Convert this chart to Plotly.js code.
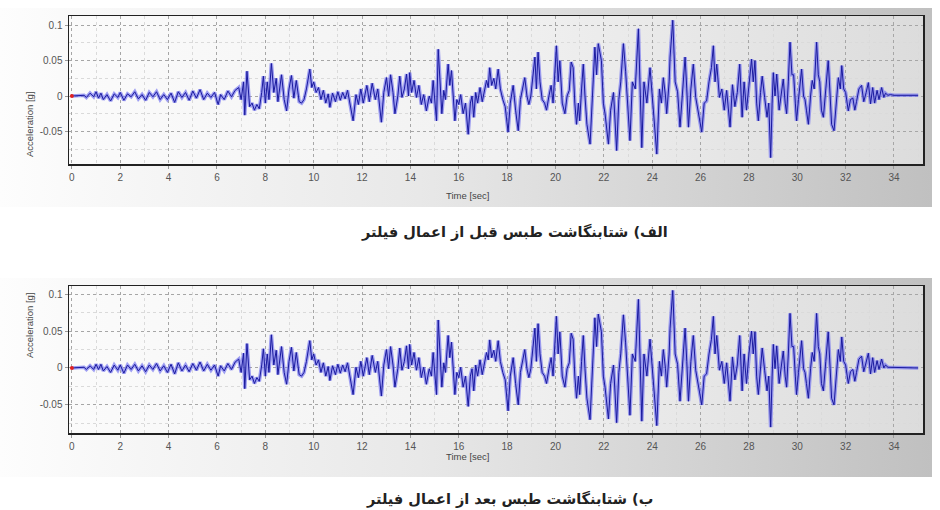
<!DOCTYPE html>
<html>
<head>
<meta charset="utf-8">
<script src="https://cdn.plot.ly/plotly-3.0.1.min.js"></script>
<style>
  html,body{margin:0;padding:0;background:#fff;}
  #wrap{position:relative;width:940px;height:510px;overflow:hidden;}
  .panel{position:absolute;left:0;width:932px;background:linear-gradient(to right,#fdfdfd 0%,#e8e8e8 45%,#c0c0c0 100%);}
  .inner{position:absolute;left:69px;width:854px;background:linear-gradient(to right,#fbfbfb 0%,#f1f1f1 50%,#dcdcdc 100%);}
  #chart{position:absolute;left:0;top:0;width:940px;height:510px;}
</style>
</head>
<body>
<div id="wrap">
  <div class="panel" style="top:8px;height:199px;"></div>
  <div class="inner" style="top:16px;height:148px;"></div>
  <div class="panel" style="top:278px;height:199px;"></div>
  <div class="inner" style="top:286px;height:147px;"></div>
  <div id="chart"></div>
</div>
<script>
// Time [sec]
const time = [0,0.3,0.5,0.6,0.75,0.9,1.0,1.1,1.2,1.3,1.45,1.6,1.75,1.9,2.0,2.15,2.3,2.45,2.6,2.75,2.9,3.05,3.2,3.35,3.5,3.65,3.8,3.95,4.1,4.25,4.4,4.55,4.7,4.85,5.0,5.15,5.3,5.45,5.6,5.75,5.9,6.05,6.15,6.3,6.45,6.6,6.75,6.9,
7.0,7.1,7.15,7.24,7.35,7.45,7.55,7.65,7.75,7.85,7.92,8.0,8.08,8.15,8.25,8.35,8.45,8.52,8.6,8.67,8.78,8.88,8.98,9.08,9.18,9.28,9.4,9.5,9.6,9.7,9.84,9.92,
10.0,10.1,10.2,10.3,10.4,10.5,10.6,10.67,10.78,10.9,11.0,11.1,11.2,11.3,11.4,11.5,11.63,11.75,11.85,11.95,12.05,12.2,12.3,12.42,12.55,12.65,12.8,12.9,
13.01,13.1,13.18,13.28,13.36,13.48,13.56,13.65,13.75,13.84,13.92,13.97,14.05,14.15,14.25,14.35,14.45,14.55,14.66,14.78,14.87,14.94,15.02,15.08,15.15,15.22,15.3,15.38,15.45,15.56,15.63,15.7,15.77,15.84,15.92,
16.0,16.08,16.18,16.28,16.39,16.48,16.55,16.62,16.7,16.78,16.88,16.97,17.06,17.15,17.22,17.28,17.36,17.45,17.53,17.63,17.72,17.82,17.92,18.04,18.13,18.25,18.35,18.46,18.55,18.63,18.73,18.82,18.9,18.98,
19.07,19.15,19.21,19.28,19.36,19.45,19.55,19.63,19.73,19.82,19.9,19.97,20.04,20.11,20.18,20.28,20.39,20.48,20.57,20.65,20.73,20.8,20.87,20.95,21.0,21.08,21.15,21.22,21.3,21.43,21.52,21.63,21.7,21.77,21.9,21.98,
22.05,22.19,22.28,22.4,22.53,22.62,22.7,22.81,22.9,22.97,23.08,23.18,23.3,23.43,23.5,23.57,23.66,23.78,23.91,24.0,24.08,24.19,24.3,24.38,24.46,24.55,24.6,24.7,24.74,24.85,24.95,
25.05,25.15,25.25,25.36,25.43,25.5,25.6,25.7,25.8,25.9,26.05,26.15,26.25,26.35,26.45,26.53,26.6,26.67,26.78,26.88,26.98,27.08,27.22,27.32,27.42,27.52,27.62,27.72,27.8,27.9,
28.0,28.11,28.18,28.25,28.32,28.39,28.48,28.55,28.65,28.75,28.82,28.9,28.96,29.01,29.08,29.15,29.25,29.33,29.42,29.5,29.56,29.63,29.7,29.78,29.85,29.92,29.97,
30.05,30.1,30.18,30.26,30.32,30.38,30.46,30.55,30.62,30.7,30.8,30.87,30.93,31.0,31.08,31.18,31.28,31.36,31.42,31.52,31.6,31.7,31.78,31.84,31.92,
32.0,32.11,32.2,32.3,32.38,32.45,32.55,32.66,32.75,32.85,32.94,33.03,33.12,33.2,33.3,33.38,33.49,33.58,33.65,33.75,33.85,34.0,35.0];

// Acceleration [g] before filtering (alef)
const accBefore = [0,0,0.001,-0.002,0.004,-0.001,0.006,-0.003,0.004,-0.005,0.002,-0.007,0.003,-0.002,0.005,-0.006,0.003,-0.001,0.006,-0.004,0.002,-0.006,0.005,-0.001,0.006,-0.005,0.002,-0.005,0.004,-0.009,0.006,-0.002,0.005,-0.006,0.007,-0.003,0.009,-0.005,0.004,-0.002,0.005,-0.012,0.002,-0.005,0.007,-0.001,0.008,0.012,
-0.005,0.02,-0.027,0.035,-0.015,-0.01,-0.02,-0.012,-0.018,0.005,0.028,-0.01,0.02,-0.005,0.046,0.005,0.025,-0.008,0.015,0.03,-0.005,-0.021,0.01,0.029,-0.003,0.022,-0.008,-0.01,-0.005,0.01,0.038,0.012,
0.02,0.005,0.012,-0.005,0.008,-0.01,0.003,-0.016,0.004,-0.008,0.006,-0.006,0.005,-0.004,0.008,-0.012,-0.035,0.002,-0.012,0.01,-0.01,0.015,-0.008,0.018,-0.005,0.01,-0.037,0.005,
0.026,0.0,0.03,0.005,-0.025,0.0,0.028,-0.002,0.01,0.031,0.0,0.033,0.005,0.022,-0.002,0.015,-0.012,0.002,-0.021,0.0,-0.01,0.022,-0.01,-0.035,0.066,0.02,-0.025,0.008,-0.005,0.045,0.015,0.036,0.0,-0.035,-0.005,
-0.012,0.002,-0.025,-0.01,-0.054,-0.01,0.0,-0.03,0.005,-0.01,0.012,-0.008,0.008,0.022,0.012,0.04,0.015,0.025,0.01,0.038,0.01,-0.005,-0.015,-0.051,-0.01,0.015,-0.02,-0.049,-0.005,0.01,0.026,0.0,-0.012,0.0,
0.03,0.055,0.01,0.062,0.02,-0.005,-0.01,-0.02,0.0,0.015,-0.01,0.03,0.071,0.02,0.05,-0.01,-0.025,0.0,0.008,0.048,0.04,-0.01,-0.04,-0.01,-0.035,0.01,0.045,0.0,-0.04,-0.068,0.0,0.069,0.03,0.074,0.05,-0.01,
-0.025,-0.068,-0.02,0.005,-0.077,-0.005,0.02,0.074,0.035,0.0,-0.063,0.02,0.01,0.095,0.0,-0.073,0.02,-0.01,0.04,0.0,-0.03,-0.082,0.01,-0.01,0.026,0.0,-0.025,0.02,0.055,0.107,0.02,
0.006,-0.044,0.0,0.055,0.01,-0.044,0.01,0.045,-0.002,-0.02,-0.051,-0.01,-0.007,0.02,0.04,0.071,0.02,0.045,-0.002,0.01,-0.02,0.008,-0.044,0.016,-0.015,0.005,0.045,-0.03,0.02,-0.02,
0.02,0.052,0.02,0.05,-0.01,-0.035,0.005,0.028,-0.002,-0.03,-0.01,-0.087,-0.01,0.033,0.0,0.031,-0.02,0.005,0.024,-0.01,-0.025,0.02,0.076,0.03,0.03,-0.01,-0.035,
-0.005,0.015,0.038,0.0,-0.005,-0.02,-0.04,0.0,0.022,0.01,0.076,0.03,0.02,-0.02,-0.03,0.01,0.05,0.0,-0.04,-0.049,-0.01,0.026,0.01,0.043,0.01,
0.005,-0.021,-0.005,-0.003,-0.02,-0.008,0.01,0.015,-0.008,0.005,0.019,-0.011,0.012,-0.01,0.008,-0.005,0.012,-0.002,0.004,0.001,0.002,0.001,0.001];

// Acceleration [g] after filtering (be)
const accAfter = [0,0,0.001,-0.002,0.003,-0.002,0.005,-0.002,0.005,-0.004,0.002,-0.006,0.004,-0.003,0.004,-0.007,0.004,-0.002,0.005,-0.004,0.003,-0.005,0.004,-0.002,0.006,-0.004,0.003,-0.006,0.005,-0.008,0.007,-0.004,0.004,-0.005,0.006,-0.003,0.008,-0.004,0.005,-0.003,0.004,-0.011,0.003,-0.004,0.006,-0.002,0.008,0.012,
-0.006,0.02,-0.028,0.033,-0.016,-0.011,-0.021,-0.013,-0.018,0.004,0.026,-0.011,0.019,-0.006,0.045,0.004,0.024,-0.009,0.014,0.029,-0.006,-0.022,0.009,0.028,-0.004,0.021,-0.009,-0.011,-0.006,0.009,0.037,0.011,
0.019,0.004,0.011,-0.006,0.007,-0.011,0.002,-0.017,0.003,-0.009,0.005,-0.007,0.004,-0.005,0.007,-0.013,-0.036,0.001,-0.013,0.009,-0.011,0.014,-0.009,0.017,-0.006,0.009,-0.038,0.004,
0.025,-0.001,0.029,0.004,-0.026,-0.001,0.027,-0.003,0.009,0.03,-0.001,0.032,0.004,0.021,-0.003,0.014,-0.013,0.001,-0.022,-0.001,-0.011,0.021,-0.011,-0.036,0.065,0.019,-0.026,0.007,-0.006,0.044,0.014,0.035,-0.001,-0.036,-0.006,
-0.013,0.001,-0.026,-0.011,-0.052,-0.011,-0.001,-0.031,0.004,-0.011,0.011,-0.009,0.007,0.021,0.011,0.038,0.014,0.024,0.009,0.037,0.009,-0.006,-0.016,-0.058,-0.011,0.014,-0.021,-0.05,-0.006,0.009,0.025,-0.001,-0.013,-0.001,
0.029,0.054,0.009,0.06,0.019,-0.006,-0.011,-0.021,-0.001,0.014,-0.011,0.029,0.07,0.019,0.049,-0.011,-0.026,-0.001,0.007,0.047,0.039,-0.011,-0.041,-0.011,-0.036,0.009,0.044,-0.001,-0.041,-0.07,-0.001,0.068,0.029,0.073,0.049,-0.011,
-0.026,-0.069,-0.021,0.004,-0.074,-0.006,0.019,0.072,0.034,-0.001,-0.064,0.019,0.009,0.093,-0.001,-0.072,0.019,-0.011,0.039,-0.001,-0.031,-0.078,0.009,-0.011,0.025,-0.001,-0.026,0.019,0.054,0.105,0.019,
0.005,-0.045,-0.001,0.054,0.009,-0.045,0.009,0.044,-0.003,-0.021,-0.05,-0.011,-0.008,0.019,0.039,0.07,0.019,0.044,-0.003,0.009,-0.021,0.007,-0.045,0.015,-0.016,0.004,0.044,-0.031,0.019,-0.021,
0.019,0.05,0.019,0.049,-0.011,-0.036,0.004,0.027,-0.003,-0.031,-0.011,-0.08,-0.011,0.032,-0.001,0.03,-0.021,0.004,0.023,-0.011,-0.026,0.019,0.074,0.029,0.029,-0.011,-0.036,
-0.006,0.014,0.037,-0.001,-0.006,-0.021,-0.041,-0.001,0.021,0.009,0.074,0.029,0.019,-0.021,-0.031,0.009,0.049,-0.001,-0.041,-0.05,-0.011,0.025,0.009,0.042,0.009,
0.004,-0.021,-0.005,-0.002,-0.018,-0.006,0.012,0.016,-0.005,0.008,0.02,-0.008,0.014,-0.006,0.01,-0.002,0.012,0.0,0.004,0.001,0.001,0.0,0.0];

const yTickVals = [-0.05, 0, 0.05, 0.1];
const yTickText = ['-0.05', '0', '0.05', '0.1'];
const captionTop = 'الف) شتابنگاشت طبس قبل از اعمال فیلتر';
const captionBottom = 'ب) شتابنگاشت طبس بعد از اعمال فیلتر';
const xTitle = 'Time [sec]';
const yTitle = 'Acceleration [g]';

const W = 940, H = 510;
const px = v => v / W;
const py = v => 1 - v / H;

function glow(y, xa, ya) {
  return {x: time, y: y, xaxis: xa, yaxis: ya, type: 'scatter', mode: 'lines',
    line: {color: 'rgba(120,120,240,0.7)', width: 3.6}, hoverinfo: 'skip', showlegend: false};
}
function core(y, xa, ya) {
  return {x: time, y: y, xaxis: xa, yaxis: ya, type: 'scatter', mode: 'lines',
    line: {color: '#1a1a9e', width: 1}, showlegend: false};
}
function origin(xa, ya) {
  return {x: [0], y: [0], xaxis: xa, yaxis: ya, type: 'scatter', mode: 'markers',
    marker: {color: '#e02020', size: 4}, showlegend: false};
}

const data = [
  glow(accBefore, 'x', 'y'), core(accBefore, 'x', 'y'), origin('x', 'y'),
  glow(accAfter, 'x2', 'y2'), core(accAfter, 'x2', 'y2'), origin('x2', 'y2')
];

const tickFont = {family: 'Liberation Sans, Arial, sans-serif', size: 10, color: '#555'};
function xax(anchor) {
  return {
    domain: [px(69), px(923)], anchor: anchor, range: [-0.12, 35.2],
    tick0: 0, dtick: 2, showgrid: true, gridcolor: '#a6a6a6', griddash: 'dot', gridwidth: 1,
    minor: {dtick: 1, showgrid: true, gridcolor: '#dadada', griddash: 'dot', gridwidth: 1, ticks: ''},
    showline: true, linecolor: '#222', linewidth: 1.5, mirror: true,
    ticks: 'outside', ticklen: 3, tickcolor: '#999', tickfont: tickFont, zeroline: false, fixedrange: true
  };
}
function yax(anchor, dom, rng) {
  return {
    domain: dom, anchor: anchor, range: rng,
    tickvals: yTickVals, ticktext: yTickText,
    showgrid: true, gridcolor: '#a6a6a6', griddash: 'dot', gridwidth: 1,
    minor: {dtick: 0.025, showgrid: true, gridcolor: '#dadada', griddash: 'dot', gridwidth: 1, ticks: ''},
    showline: true, linecolor: '#222', linewidth: 1.5, mirror: true,
    ticks: 'outside', ticklen: 3, tickcolor: '#999', tickfont: tickFont, zeroline: false, fixedrange: true
  };
}

const capFont = {family: 'DejaVu Sans, sans-serif', size: 14.5, color: '#222'};
const titleFont = {family: 'Liberation Sans, Arial, sans-serif', size: 9.5, color: '#444'};

const layout = {
  width: W, height: H,
  margin: {l: 0, r: 0, t: 0, b: 0},
  paper_bgcolor: 'rgba(0,0,0,0)', plot_bgcolor: 'rgba(0,0,0,0)',
  showlegend: false,
  xaxis: xax('y'),
  yaxis: yax('x', [py(164), py(16)], [-0.096, 0.113]),
  xaxis2: xax('y2'),
  yaxis2: yax('x2', [py(433), py(286)], [-0.088, 0.111]),
  annotations: [
    {text: xTitle, xref: 'paper', yref: 'paper', x: px(467), y: py(195), showarrow: false, font: titleFont},
    {text: xTitle, xref: 'paper', yref: 'paper', x: px(467), y: py(464), showarrow: false, font: titleFont},
    {text: yTitle, xref: 'paper', yref: 'paper', x: px(22), y: py(90), showarrow: false, textangle: -90, font: titleFont},
    {text: yTitle, xref: 'paper', yref: 'paper', x: px(22), y: py(360), showarrow: false, textangle: -90, font: titleFont},
    {text: '<b>' + captionTop + '</b>', xref: 'paper', yref: 'paper', x: px(514), y: py(232), yanchor: 'middle', showarrow: false, font: capFont},
    {text: '<b>' + captionBottom + '</b>', xref: 'paper', yref: 'paper', x: px(509), y: py(510), yanchor: 'bottom', showarrow: false, font: capFont}
  ]
};

Plotly.newPlot('chart', data, layout, {displayModeBar: false, staticPlot: true});
</script>
</body>
</html>
